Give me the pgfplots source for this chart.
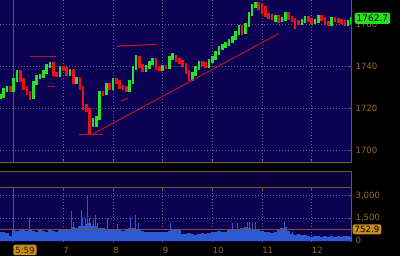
\documentclass[border=0pt]{standalone}
\usepackage{fontspec}
\setmainfont{DejaVu Sans}
\usepackage{pgfplots}
\usepackage{pgfplotstable}
\pgfplotsset{compat=1.18}
\definecolor{navy}{RGB}{12,0,82}
\definecolor{navydark}{RGB}{10,0,62}
\definecolor{brd}{RGB}{120,86,40}
\definecolor{lbl}{RGB}{150,105,40}
\definecolor{grd}{RGB}{100,95,135}
\definecolor{upc}{RGB}{40,225,40}
\definecolor{dnc}{RGB}{230,20,20}
\definecolor{ann}{RGB}{185,20,40}
\definecolor{vol}{RGB}{45,90,210}
\definecolor{gold}{RGB}{200,140,30}
\definecolor{lime}{RGB}{40,225,20}

% time in minutes after 6:00, price low/high of each 4-minute candle
\pgfplotstableread{
t lo hi
-16 1724.2 1726.5
-12 1724.9 1729.3
-8 1727.7 1730.3
0 1727.7 1734.1
4 1732.5 1737.9
24 1724.4 1732.7
28 1731.1 1735.5
32 1733.9 1736.0
36 1734.4 1737.9
40 1736.3 1740.8
44 1739.2 1742.0
56 1734.9 1739.8
68 1735.4 1738.4
76 1731.5 1734.6
96 1711.1 1715.1
100 1711.0 1716.0
104 1714.4 1727.9
112 1726.3 1731.7
120 1728.7 1734.1
140 1727.7 1733.1
144 1731.5 1739.8
148 1738.2 1745.2
160 1737.3 1740.3
164 1738.7 1742.2
168 1740.6 1743.6
180 1737.7 1740.3
188 1738.7 1744.6
192 1743.0 1746.2
216 1733.0 1737.0
220 1735.4 1739.8
224 1738.2 1742.2
236 1739.2 1743.2
240 1741.6 1744.6
244 1743.0 1747.0
248 1745.4 1749.3
252 1747.7 1750.3
256 1748.7 1751.2
260 1749.6 1752.7
264 1751.1 1754.1
268 1752.5 1756.5
272 1754.9 1759.3
280 1755.4 1760.3
284 1758.7 1765.5
288 1763.9 1769.3
292 1767.7 1770.3
316 1761.0 1764.1
324 1761.1 1763.2
328 1761.6 1765.5
348 1759.6 1762.2
352 1760.6 1763.6
364 1760.1 1762.2
368 1760.6 1764.4
384 1759.2 1763.2
404 1759.2 1761.7
408 1760.1 1763.5
}\up

\pgfplotstableread{
t lo hi
-4 1727.7 1730.3
8 1732.5 1737.9
12 1728.7 1734.1
16 1726.3 1730.3
20 1723.8 1727.9
48 1735.4 1741.7
52 1734.9 1737.0
60 1737.7 1739.8
64 1735.4 1739.3
72 1731.5 1738.4
80 1728.7 1734.6
84 1719.2 1730.3
88 1718.2 1722.0
92 1707.5 1719.8
108 1725.5 1728.2
116 1728.7 1731.7
124 1731.5 1734.1
128 1729.2 1733.1
132 1728.7 1730.8
136 1727.7 1730.3
152 1739.2 1744.6
156 1737.3 1740.8
172 1738.2 1743.6
176 1737.7 1739.8
184 1738.5 1740.5
196 1742.0 1745.1
200 1741.1 1743.6
204 1739.6 1742.7
208 1736.3 1741.2
212 1733.0 1737.9
228 1740.1 1742.2
232 1739.2 1741.7
276 1754.5 1759.3
296 1766.5 1770.3
300 1764.8 1769.8
304 1763.5 1768.4
308 1762.5 1765.1
312 1762.0 1764.6
320 1760.5 1764.1
332 1762.0 1765.5
336 1761.1 1763.6
340 1757.8 1762.7
344 1759.6 1761.7
356 1761.1 1763.6
360 1760.1 1762.7
372 1761.6 1764.1
376 1759.6 1763.2
380 1759.0 1761.2
388 1761.1 1763.2
392 1760.6 1762.7
396 1760.1 1762.2
400 1759.2 1761.7
}\down

\pgfplotstableread{
t v
-16 550
-12 600
-8 500
-4 300
0 700
4 650
8 750
12 700
16 650
20 700
24 650
28 600
32 700
36 650
40 600
44 700
48 650
52 600
56 700
60 700
64 750
68 800
72 900
76 850
80 1000
84 1000
88 1100
92 1200
96 1000
100 950
104 850
108 850
112 800
116 750
120 700
124 750
128 700
132 650
136 700
140 850
144 850
148 800
152 700
156 650
160 600
164 550
168 600
172 580
176 550
180 600
184 580
188 650
192 780
196 750
200 700
204 450
208 450
212 500
216 450
220 400
224 450
228 500
232 450
236 500
240 550
244 600
248 650
252 600
256 550
260 700
264 750
268 700
272 800
276 850
280 900
284 850
288 800
292 750
296 700
300 650
304 600
308 550
312 500
316 550
320 800
324 850
328 900
332 650
336 450
340 400
344 450
348 400
352 350
356 300
360 250
364 300
368 280
372 250
376 300
380 250
384 280
388 250
392 300
396 250
400 280
404 300
408 250
}\volbase

\pgfplotstableread{
t v
19.8 1600
70.5 1950
72.9 1270
81.4 2050
83.8 1600
87.4 1500
89.8 2950
92.2 1500
95.9 1400
99.5 1720
101.9 1190
112.8 1520
126.0 1100
141.7 1550
147.8 1720
151.4 1200
190.0 1190
264.9 1190
270.9 1150
283.0 1270
285.4 1250
289.0 1200
291.5 1250
327.7 1230
337.3 600
}\volspike

\pgfplotsset{
  panel/.style={
    scale only axis, width=352pt,
    xmin=-16.4, xmax=408.6,
    axis line style={draw=none},
    clip mode=individual,
    tick style={brd, line width=0.8pt},
    major tick length=3pt,
    tick align=inside,
    /pgf/number format/assume math mode=true,
    /pgf/number format/set thousands separator={},
    major grid style={grd, line width=0.7pt, dash pattern=on 0.8pt off 2.2pt},
  },
  ticklbl/.style={text=lbl, font=\fontsize{8.6}{10}\selectfont},
}

\begin{document}
\begin{tikzpicture}
\useasboundingbox (0,0) rectangle (400pt,-256pt);
\fill[black] (0,0) rectangle (400pt,-256pt);

% ---------------- price panel ----------------
\begin{axis}[panel,
  at={(0pt,0pt)}, anchor=north west, height=163pt,
  ymin=1693.8, ymax=1771.4,
  axis background/.style={fill=navy},
  xtick={60,120,180,240,300,360}, xticklabels={}, xtick pos=left,
  ytick={1700,1720,1740,1760}, ytick pos=right, yticklabel pos=right,
  yticklabel style={ticklbl, anchor=west, xshift=0pt},
  grid=major,
]
\addplot[brd, line width=1.5pt] coordinates {(0,1693.8) (0,1771.4)};
\addplot[draw=none, forget plot, error bars/.cd, y dir=both, y explicit, error mark=none,
  error bar style={draw=upc, line width=2.6pt}]
  table[x=t, y expr={(\thisrow{lo}+\thisrow{hi})/2}, y error expr={(\thisrow{hi}-\thisrow{lo})/2}] {\up};
\addplot[draw=none, forget plot, error bars/.cd, y dir=both, y explicit, error mark=none,
  error bar style={draw=dnc, line width=2.6pt}]
  table[x=t, y expr={(\thisrow{lo}+\thisrow{hi})/2}, y error expr={(\thisrow{hi}-\thisrow{lo})/2}] {\down};
% drawn annotation lines
\addplot[ann, line width=1pt] coordinates {(19.8,1744.3) (51.2,1744.3)};
\addplot[ann, line width=1.2pt] coordinates {(41.5,1730.4) (50.0,1730.4)};
\addplot[ann, line width=1.2pt] coordinates {(124.8,1749.4) (173.1,1750.3)};
\addplot[ann, line width=1.2pt] coordinates {(129.7,1723.4) (138.1,1724.6)};
\addplot[ann, line width=1pt] coordinates {(79.0,1707.4) (107.9,1707.4)};
\addplot[ann, line width=1pt] coordinates {(95.9,1707.6) (320.4,1755.5)};
\draw[brd, line width=1pt] (rel axis cs:0,0) -- (rel axis cs:1,0) -- (rel axis cs:1,1);
\coordinate (pricebox) at (axis cs:408.6,1762.7);
\end{axis}

% ---------------- empty middle panel ----------------
\begin{axis}[panel,
  at={(0pt,-172pt)}, anchor=north west, height=16pt,
  ymin=0, ymax=1, xtick=\empty, ytick=\empty,
  axis background/.style={fill=navydark},
]
\addplot[draw=none] coordinates {(0,0.5)};
\draw[brd, line width=1pt] (rel axis cs:0,1) -- (rel axis cs:1,1) -- (rel axis cs:1,0) -- (rel axis cs:0,0);
\end{axis}

% ---------------- volume panel ----------------
\begin{axis}[panel,
  at={(0pt,-188pt)}, anchor=north west, height=54pt,
  ymin=-86, ymax=3494,
  axis background/.style={fill=navy},
  xtick={60,120,180,240,300,360}, xticklabels={7,8,9,10,11,12},
  xtick pos=right, xticklabel pos=left,
  xticklabel style={ticklbl, anchor=north west, inner xsep=0pt, yshift=-2pt},
  ytick={0,1500,3000}, yticklabels={0,{1,500},{3,000}},
  ytick pos=right, yticklabel pos=right,
  yticklabel style={ticklbl, anchor=west},
  ymajorgrids, xmajorgrids,
]
\addplot[brd, line width=1.5pt] coordinates {(0,-86) (0,3494)};
\addplot[ycomb, vol, line width=3.4pt] table[x=t, y=v] {\volbase};
\addplot[ycomb, vol, line width=1pt] table[x=t, y=v] {\volspike};
\addplot[brd, line width=1.2pt] coordinates {(-16.4,752.9) (408.6,752.9)};
\draw[brd, line width=1pt] (rel axis cs:0,1) -- (rel axis cs:1,1) -- (rel axis cs:1,0);
\coordinate (volbox) at (axis cs:408.6,752.9);
\coordinate (sess) at (axis cs:0,-86);
\end{axis}

\node[anchor=west, xshift=2.5pt, fill=lime, rounded corners=2pt, text=black,
  inner xsep=2pt, inner ysep=2.2pt, font=\fontsize{9}{10}\selectfont] at (pricebox) {1762.7};
\node[anchor=west, xshift=0.5pt, fill=gold, rounded corners=2pt, text=black,
  inner xsep=2pt, inner ysep=1.8pt, font=\fontsize{8.6}{10}\selectfont] at (volbox) {752.9};
\node[anchor=north west, yshift=-2.5pt, xshift=-0.5pt, fill=gold, rounded corners=2pt, text=black!80!brown,
  inner xsep=2pt, inner ysep=2pt, font=\fontsize{8.6}{10}\selectfont] at (sess) {5:59};
\end{tikzpicture}
\end{document}
